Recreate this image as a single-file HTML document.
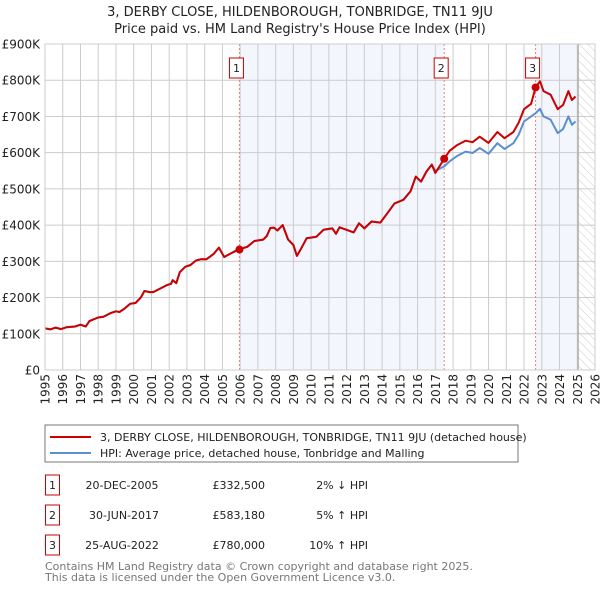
<!DOCTYPE html>
<html><head><meta charset="utf-8">
<style>
body{margin:0;background:#fff;}
svg{display:block;font-family:"DejaVu Sans","Liberation Sans",sans-serif;}
</style></head>
<body>
<svg id="chart" width="600" height="590" viewBox="0 0 600 590">
<defs>
<pattern id="hatch" width="6" height="6" patternUnits="userSpaceOnUse" patternTransform="rotate(-45)">
<rect width="6" height="6" fill="#fff"/><line x1="0" y1="0" x2="0" y2="6" stroke="#ccc" stroke-width="1"/>
</pattern>
</defs>
<text x="300" y="16" text-anchor="middle" font-size="13" fill="#222">3, DERBY CLOSE, HILDENBOROUGH, TONBRIDGE, TN11 9JU</text>
<text x="300" y="33" text-anchor="middle" font-size="13" fill="#222">Price paid vs. HM Land Registry's House Price Index (HPI)</text>
<g id="plot"></g>
<g>
<rect x="45" y="425" width="473" height="37" fill="#fff" stroke="#777"/>
<line x1="50" y1="437" x2="91" y2="437" stroke="#cc0000" stroke-width="2"/>
<text x="100" y="441" font-size="11" fill="#222">3, DERBY CLOSE, HILDENBOROUGH, TONBRIDGE, TN11 9JU (detached house)</text>
<line x1="50" y1="453" x2="91" y2="453" stroke="#5b8fd0" stroke-width="2"/>
<text x="100" y="457" font-size="11" fill="#222">HPI: Average price, detached house, Tonbridge and Malling</text>
</g>
<g font-size="11" fill="#222">
<rect x="45.5" y="475" width="14" height="20" fill="#fff" stroke="#cc0000"/>
<text x="52.5" y="489" text-anchor="middle">1</text>
<text x="122" y="489" text-anchor="middle">20-DEC-2005</text>
<text x="265" y="489" text-anchor="end">£332,500</text>
<text x="368" y="489" text-anchor="end">2% ↓ HPI</text>
<rect x="45.5" y="505" width="14" height="20" fill="#fff" stroke="#cc0000"/>
<text x="52.5" y="519" text-anchor="middle">2</text>
<text x="124" y="519" text-anchor="middle">30-JUN-2017</text>
<text x="265" y="519" text-anchor="end">£583,180</text>
<text x="368" y="519" text-anchor="end">5% ↑ HPI</text>
<rect x="45.5" y="535" width="14" height="20" fill="#fff" stroke="#cc0000"/>
<text x="52.5" y="549" text-anchor="middle">3</text>
<text x="122" y="549" text-anchor="middle">25-AUG-2022</text>
<text x="265" y="549" text-anchor="end">£780,000</text>
<text x="368" y="549" text-anchor="end">10% ↑ HPI</text>
</g>
<text x="45" y="570" font-size="11" fill="#777">Contains HM Land Registry data © Crown copyright and database right 2025.</text>
<text x="45" y="581" font-size="11" fill="#777">This data is licensed under the Open Government Licence v3.0.</text>
</svg>
<script>
const yTicks = [0,100,200,300,400,500,600,700,800,900];
const yTickLabels = ["£0","£100K","£200K","£300K","£400K","£500K","£600K","£700K","£800K","£900K"];
const xYears = [1995,1996,1997,1998,1999,2000,2001,2002,2003,2004,2005,2006,2007,2008,2009,2010,2011,2012,2013,2014,2015,2016,2017,2018,2019,2020,2021,2022,2023,2024,2025,2026];
const earlyYears = [1995.0,1995.3,1995.6,1995.9,1996.2,1996.7,1997.0,1997.3,1997.5,1998.0,1998.3,1998.7,1999.0,1999.2,1999.5,1999.8,2000.1,2000.4,2000.6,2000.9,2001.1,2001.5,2001.9,2002.1,2002.2,2002.4,2002.6,2002.9,2003.2,2003.5,2003.8,2004.1,2004.5,2004.8,2005.1,2005.4,2005.9,2006.4,2006.8,2007.3,2007.5,2007.7,2007.9,2008.1,2008.4,2008.7,2009.0,2009.2,2009.4,2009.75,2010.3,2010.7,2011.2,2011.4,2011.6,2012.0,2012.4,2012.7,2013.0,2013.4,2013.9,2014.3,2014.7,2015.2,2015.6,2015.9,2016.2,2016.5,2016.8,2017.0];
const earlyHpi = [115,112,117,113,118,120,125,120,135,145,147,157,162,160,170,183,185,200,218,215,215,225,235,238,248,240,270,285,290,302,306,306,320,338,312,320,334,340,356,360,370,392,393,385,400,360,345,315,332,364,368,387,391,376,394,387,380,405,391,410,407,433,460,470,493,534,520,548,567,550];
const earlyPrice = [115,112,117,113,118,120,125,120,135,145,147,157,162,160,170,183,185,200,218,215,215,225,235,238,248,240,270,285,290,302,306,306,320,338,312,320,332,340,356,360,370,392,393,385,400,360,345,315,332,364,368,387,391,376,394,387,380,405,391,410,407,433,460,470,493,534,520,548,567,544];
const lateYears = [2017.5,2017.8,2018.2,2018.7,2019.1,2019.5,2020.0,2020.5,2020.9,2021.4,2021.7,2022.0,2022.4,2022.65,2022.9,2023.1,2023.5,2023.9,2024.2,2024.5,2024.7,2024.9];
const lateHpi = [562,576,590,603,599,613,597,626,610,626,650,686,700,709,721,700,691,654,665,700,677,686];
const latePrice = [583,605,620,633,629,644,627,657,640,657,683,720,735,780,797,770,760,720,732,770,745,755];
const saleYears = [2005.96,2017.5,2022.65];
const salePrices = [332.5,583.18,780];
const saleLabels = ["1","2","3"];

const X0=45,X1=595,Y0=370,Y1=44;
const xs = y => X0+(y-1995)/(2026-1995)*(X1-X0);
const ys = v => Y0-v/900*(Y0-Y1);
const NS="http://www.w3.org/2000/svg";
const plot=document.getElementById('plot');
function mk(t,a,p){const e=document.createElementNS(NS,t);for(const k in a)e.setAttribute(k,a[k]);(p||plot).appendChild(e);return e;}

let r=mk('rect',{x:xs(saleYears[0]),y:Y1,width:xs(saleYears[1])-xs(saleYears[0]),height:Y0-Y1,fill:'#f3f6fd'});


r=mk('rect',{x:xs(saleYears[2]),y:Y1,width:xs(2025.05)-xs(saleYears[2]),height:Y0-Y1,fill:'#f3f6fd'});


r=mk('rect',{x:xs(2025.05),y:Y1,width:X1-xs(2025.05),height:Y0-Y1,fill:'url(#hatch)'});



xYears.forEach(y=>{
  const l=mk('line',{x1:xs(y),x2:xs(y),y1:Y1,y2:Y0,stroke:'#ccc','stroke-width':1});
  
  
  const t=mk('text',{x:0,y:0,'font-size':12,fill:'#222','text-anchor':'end',transform:`translate(${xs(y)+4.5},374) rotate(-90)`});
  t.textContent=y;
  
  
});
yTicks.forEach((v,i)=>{
  const l=mk('line',{x1:X0,x2:X1,y1:ys(v),y2:ys(v),stroke:'#ccc','stroke-width':1});
  
  
  const t=mk('text',{x:40,y:ys(v)+4.5,'font-size':12,fill:'#222','text-anchor':'end'});
  t.textContent=yTickLabels[i];
  
  
});
const end=mk('line',{x1:xs(2025.05),x2:xs(2025.05),y1:Y1,y2:Y0,stroke:'#999','stroke-width':1});



saleYears.forEach((y,i)=>{
  const l=mk('line',{x1:xs(y),x2:xs(y),y1:Y1,y2:Y0,stroke:'#f08080','stroke-width':1,'stroke-dasharray':'2,2'});
  
  
});

function path(xa,va){return xa.map((y,i)=>(i?'L':'M')+xs(y).toFixed(1)+','+ys(va[i]).toFixed(1)).join('');}
const hpiP=mk('path',{d:path(earlyYears.concat(lateYears),earlyHpi.concat(lateHpi)),fill:'none',stroke:'#5b8fd0','stroke-width':2,'stroke-linejoin':'round'});


const prP=mk('path',{d:path(earlyYears.concat(lateYears),earlyPrice.concat(latePrice)),fill:'none',stroke:'#cc0000','stroke-width':2,'stroke-linejoin':'round'});



saleYears.forEach((y,i)=>{
  const c=mk('circle',{cx:xs(y),cy:ys(salePrices[i]),r:4,fill:'#cc0000'});
  
  
  const b=mk('rect',{x:xs(y)-10,y:58,width:14,height:20,fill:'#fff',stroke:'#cc0000'});
  
  
  const t=mk('text',{x:xs(y)-3,y:72,'font-size':11,fill:'#222','text-anchor':'middle'});
  t.textContent=saleLabels[i];
  
  
});
const frame=mk('rect',{x:X0,y:Y1,width:X1-X0,height:Y0-Y1,fill:'none',stroke:'#ccc'});


</script>
</body></html>
